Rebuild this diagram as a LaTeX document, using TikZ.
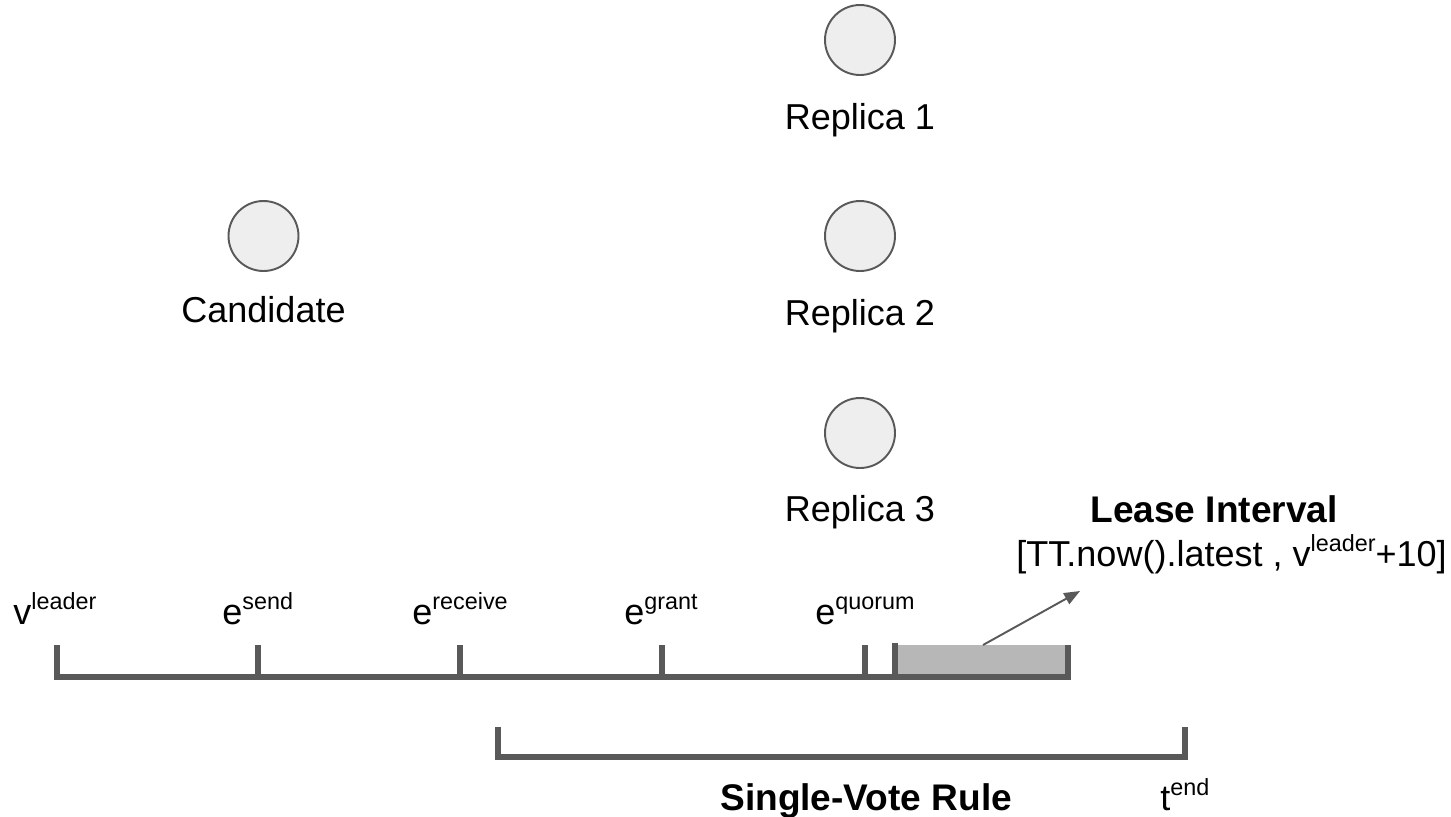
\documentclass[tikz,border=0pt]{standalone}
\usepackage{fontspec}
\setmainfont{Liberation Sans}
\usetikzlibrary{arrows.meta}
\definecolor{ink}{HTML}{595959}
\definecolor{nodefill}{HTML}{EEEEEE}
\definecolor{leasefill}{HTML}{B7B7B7}
\newcommand{\supx}[1]{\raisebox{8.1pt}{\fontsize{13.3}{13.3}\selectfont #1}}
\begin{document}
\begin{tikzpicture}[x=0.02cm,y=-0.02cm,
  proc/.style={circle,draw=ink,fill=nodefill,line width=1.1pt,minimum size=70*0.02cm,inner sep=0pt},
  lbl/.style={inner sep=0pt,font=\fontsize{20.5}{24}\selectfont},
  boldlbl/.style={inner sep=0pt,font=\fontsize{21.1}{25}\selectfont\bfseries},
  axis/.style={draw=ink,line width=3.4pt,line join=miter,line cap=butt},
  pointer/.style={draw=ink,line width=1.1pt,-{Triangle[length=9pt,width=7pt]}}]
\useasboundingbox (0,0) rectangle (1451,816);

% processes
\node[proc] (cand) at (263.5,236) {};
\node[proc] (r1) at (860,40) {};
\node[proc] (r2) at (860,236) {};
\node[proc] (r3) at (860,433) {};
\node[lbl,anchor=base] (candl) at (263.5,322) {Candidate};
\node[lbl,anchor=base] (r1l) at (860,129) {Replica 1};
\node[lbl,anchor=base] (r2l) at (860,325) {Replica 2};
\node[lbl,anchor=base] (r3l) at (860,521) {Replica 3};

% lease interval shaded box
\fill[leasefill] (895,645) rectangle (1068,677);

% main timeline with event ticks
\draw[axis] (57,645) -- (57,677) -- (1068,677) -- (1068,645);
\draw[axis] (258,645) -- (258,677);
\draw[axis] (460,645) -- (460,677);
\draw[axis] (662,645) -- (662,677);
\draw[axis] (865,645) -- (865,677);
\draw[axis] (895,643) -- (895,677);

% event labels
\node[lbl,anchor=base west] (vl) at (13,624) {v\supx{leader}};
\node[lbl,anchor=base west] (es) at (222,624) {e\supx{send}};
\node[lbl,anchor=base west] (er) at (412,624) {e\supx{receive}};
\node[lbl,anchor=base west] (eg) at (624,624) {e\supx{grant}};
\node[lbl,anchor=base west] (eq) at (815,624) {e\supx{quorum}};

% lease interval label and pointer
\node[boldlbl,anchor=base west] (lease) at (1090,522) {Lease Interval};
\node[lbl,anchor=base east] (range) at (1447,566) {[TT.now().latest , v\supx{leader}+10]};
\coordinate (boxtop) at (983,645);
\coordinate (tip) at (1080,591);
\draw[pointer] (boxtop) -- (tip);

% single-vote rule bracket
\draw[axis] (498,727) -- (498,757) -- (1185,757) -- (1185,727);
\node[boldlbl,anchor=base west] (svr) at (720,810) {Single-Vote Rule};
\node[lbl,anchor=base west] (tend) at (1160,810) {t\supx{end}};
\end{tikzpicture}
\end{document}
